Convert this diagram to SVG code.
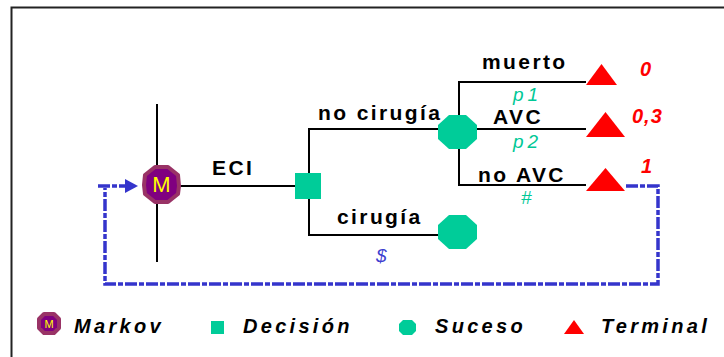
<svg xmlns="http://www.w3.org/2000/svg" width="724" height="357" viewBox="0 0 724 357">
  <style>
    .frame { fill: none; stroke: #222; stroke-width: 2; }
    .branch { fill: none; stroke: #000; stroke-width: 2; }
    .loop { fill: none; stroke: #3535CC; stroke-width: 3.5; stroke-dasharray: 12 2 5 2; }
    .lbl { font-family: "Liberation Sans", Arial, sans-serif; font-weight: bold; font-size: 21px; letter-spacing: 2.4px; fill: #000; }
    .prob { font-family: "Liberation Sans", Arial, sans-serif; font-style: italic; font-size: 19px; letter-spacing: 4px; fill: #00C896; }
    .cost { font-family: "Liberation Sans", Arial, sans-serif; font-style: italic; font-size: 19px; fill: #4040D0; }
    .val { font-family: "Liberation Sans", Arial, sans-serif; font-style: italic; font-weight: bold; font-size: 20px; letter-spacing: 1px; fill: #FF0000; }
    .leg { font-family: "Liberation Sans", Arial, sans-serif; font-style: italic; font-weight: bold; font-size: 20px; letter-spacing: 3.3px; fill: #000; }
    .decision { fill: #00CC99; }
    .chance { fill: #00CC99; }
    .terminal { fill: #FF0000; }
    .markov { fill: #800080; stroke: #993366; stroke-width: 4; stroke-linejoin: round; }
    .mtext { font-family: "Liberation Sans", Arial, sans-serif; fill: #FFFF00; text-anchor: middle; }
  </style>

  <!-- outer frame -->
  <path class="frame" d="M11.5,357 V7.5 H724"/>

  <!-- connectors -->
  <g id="connectors">
    <line class="branch" x1="157" y1="104" x2="157" y2="262"/>
    <line class="branch" x1="170" y1="186" x2="296" y2="186"/>
    <path class="branch" d="M440,129 H309 V235 H438"/>
    <path class="branch" d="M586,82 H459 V185 H586"/>
    <line class="branch" x1="470" y1="129" x2="586" y2="129"/>
    <!-- Markov cycle return -->
    <path class="loop" d="M626,186 H658 V284 H105 V188"/>
    <line class="loop" x1="98" y1="186" x2="128" y2="186"/>
    <polygon points="125,179 138,186 125,193" fill="#3535CC"/>
  </g>

  <!-- nodes -->
  <g id="node-markov">
    <polygon class="markov" points="155,167 168,167 178,175 179,186 178,194 168,202 155,202 145,194 144,185 145,175"/>
    <text class="mtext" x="161.5" y="192" font-size="22">M</text>
  </g>
  <g id="node-decision">
    <rect class="decision" x="295" y="173" width="26" height="26"/>
  </g>
  <g id="node-chance-nocirugia">
    <polygon class="chance" points="449,115 466,115 477,125 477,139 466,149 449,149 438,139 438,125"/>
  </g>
  <g id="node-chance-cirugia">
    <polygon class="chance" points="449,215 466,215 477,225 477,239 466,249 449,249 438,239 438,225"/>
  </g>
  <g id="node-terminal-muerto">
    <polygon class="terminal" points="586,85 617,85 601.5,64"/>
  </g>
  <g id="node-terminal-avc">
    <polygon class="terminal" points="586,137 625,137 605.5,112"/>
  </g>
  <g id="node-terminal-noavc">
    <polygon class="terminal" points="586,191 625,191 605.5,168"/>
  </g>

  <!-- branch labels -->
  <g id="labels">
    <text class="lbl" x="212" y="175">ECI</text>
    <text class="lbl" x="318" y="120">no cirugía</text>
    <text class="lbl" x="337" y="224">cirugía</text>
    <text class="lbl" x="482" y="69">muerto</text>
    <text class="lbl" x="493" y="124">AVC</text>
    <text class="lbl" x="478" y="182">no AVC</text>
    <text class="prob" x="513" y="101">p1</text>
    <text class="prob" x="513" y="148">p2</text>
    <text class="prob" x="521" y="204">#</text>
    <text class="cost" x="376" y="262">$</text>
    <text class="val" x="640" y="76">0</text>
    <text class="val" x="632" y="123">0,3</text>
    <text class="val" x="641" y="173">1</text>
  </g>

  <!-- legend -->
  <g id="legend">
    <polygon class="markov" points="44,314 54,314 59,319 59,328 54,333 44,333 39,328 39,319" stroke-width="3"/>
    <text class="mtext" x="49" y="328" font-size="11">M</text>
    <text class="leg" x="74" y="333">Markov</text>
    <rect class="decision" x="211" y="321" width="13" height="13"/>
    <text class="leg" x="243" y="333">Decisión</text>
    <polygon class="chance" points="403,320 412,320 416,324 416,331 412,335 403,335 399,331 399,324"/>
    <text class="leg" x="435" y="333">Suceso</text>
    <polygon class="terminal" points="564,334 584,334 574,320"/>
    <text class="leg" x="601" y="333">Terminal</text>
  </g>
</svg>
